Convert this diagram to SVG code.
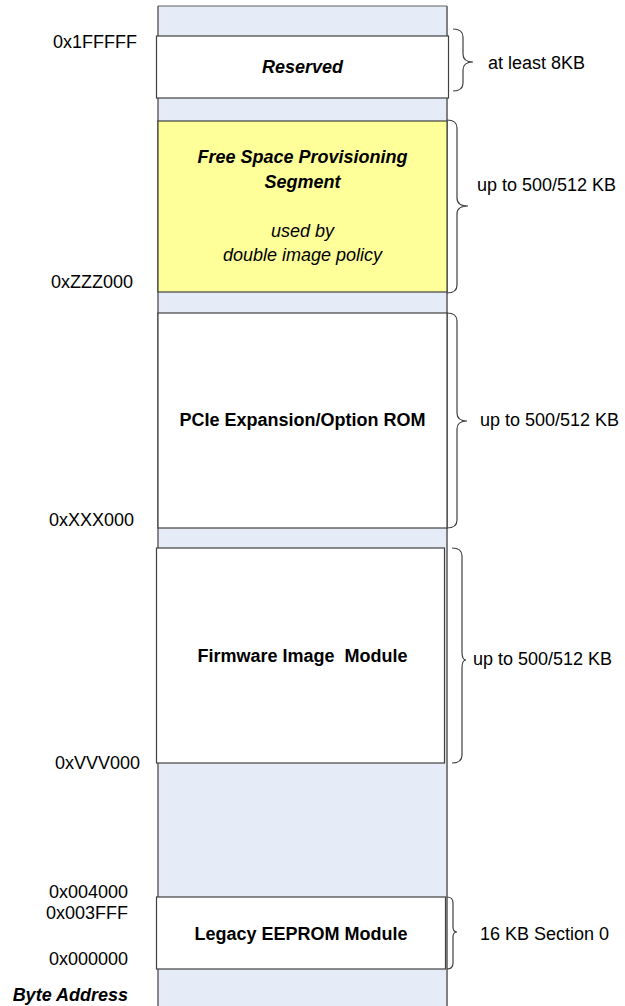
<svg xmlns="http://www.w3.org/2000/svg" width="625" height="1006" viewBox="0 0 625 1006">
<style>
  text { font-family: "Liberation Sans", Arial, sans-serif; font-size: 18px; fill: #000; }
  .addr { text-anchor: end; }
  .mid { text-anchor: middle; }
  .b { font-weight: bold; }
  .i { font-style: italic; }
  .pre { white-space: pre; }
  .box { fill: #fff; stroke: #404040; stroke-width: 1.2; }
  .yellow { fill: #FFFF99; }
  .brace { fill: none; stroke: #404040; stroke-width: 1.2; }
</style>
<rect width="625" height="1006" fill="#fff"/>
<g id="column">
  <rect x="158" y="6" width="289" height="1006" fill="#E6ECF7" stroke="none"/>
  <line x1="158" y1="6" x2="447" y2="6" stroke="#606060" stroke-width="1"/>
  <line x1="158" y1="6" x2="158" y2="1006" stroke="#404040" stroke-width="1.2"/>
  <line x1="447" y1="6" x2="447" y2="1006" stroke="#808080" stroke-width="2"/>
</g>
<g id="reserved">
  <rect class="box" x="156.5" y="36" width="292" height="62"/>
  <text class="mid b i" x="302.5" y="73">Reserved</text>
</g>
<g id="free-space">
  <rect class="box yellow" x="158" y="121" width="289" height="171"/>
  <text class="mid b i" x="302.5" y="163">Free Space Provisioning</text>
  <text class="mid b i" x="302.5" y="188">Segment</text>
  <text class="mid i" x="302.5" y="237">used by</text>
  <text class="mid i" x="302.5" y="261">double image policy</text>
</g>
<g id="pcie">
  <rect class="box" x="158" y="313" width="289" height="215"/>
  <text class="mid b" x="302.5" y="426">PCIe Expansion/Option ROM</text>
</g>
<g id="firmware">
  <rect class="box" x="156.5" y="548" width="288" height="215"/>
  <text class="mid b pre" x="302.5" y="662">Firmware Image  Module</text>
</g>
<g id="legacy">
  <rect class="box" x="156.5" y="897" width="289" height="72"/>
  <text class="mid b" x="301" y="940">Legacy EEPROM Module</text>
</g>
<g id="addresses">
  <text class="addr" x="137" y="48">0x1FFFFF</text>
  <text class="addr" x="133" y="288">0xZZZ000</text>
  <text class="addr" x="134" y="526">0xXXX000</text>
  <text class="addr" x="140" y="769">0xVVV000</text>
  <text class="addr" x="128" y="898">0x004000</text>
  <text class="addr" x="128" y="919">0x003FFF</text>
  <text class="addr" x="128" y="965">0x000000</text>
  <text class="addr b i" x="128" y="1001">Byte Address</text>
</g>
<g id="connectors">
  <path class="brace" d="M453,29 Q463,29 463,37 L463,54 Q463,62 473,62 Q463,62 463,70 L463,83 Q463,91 453,91"/>
  <path class="brace" d="M447,120 Q457,120 457,128 L457,198 Q457,206 468,206 Q457,206 457,214 L457,285 Q457,293 447,293"/>
  <path class="brace" d="M447,313 Q457,313 457,321 L457,413 Q457,421 467,421 Q457,421 457,429 L457,520 Q457,528 447,528"/>
  <path class="brace" d="M452,548 Q462,548 462,556 L462,652 Q462,660 466,660 Q462,660 462,668 L462,755 Q462,763 452,763"/>
  <path class="brace" d="M447,897 Q453,897 453,903 L453,927 Q453,932 457,932 Q453,932 453,937 L453,963 Q453,969 447,969"/>
</g>
<g id="brace-labels">
  <text x="488" y="69">at least 8KB</text>
  <text x="477" y="191">up to 500/512 KB</text>
  <text x="480" y="426">up to 500/512 KB</text>
  <text x="473" y="665">up to 500/512 KB</text>
  <text x="480" y="940">16 KB Section 0</text>
</g>
</svg>
